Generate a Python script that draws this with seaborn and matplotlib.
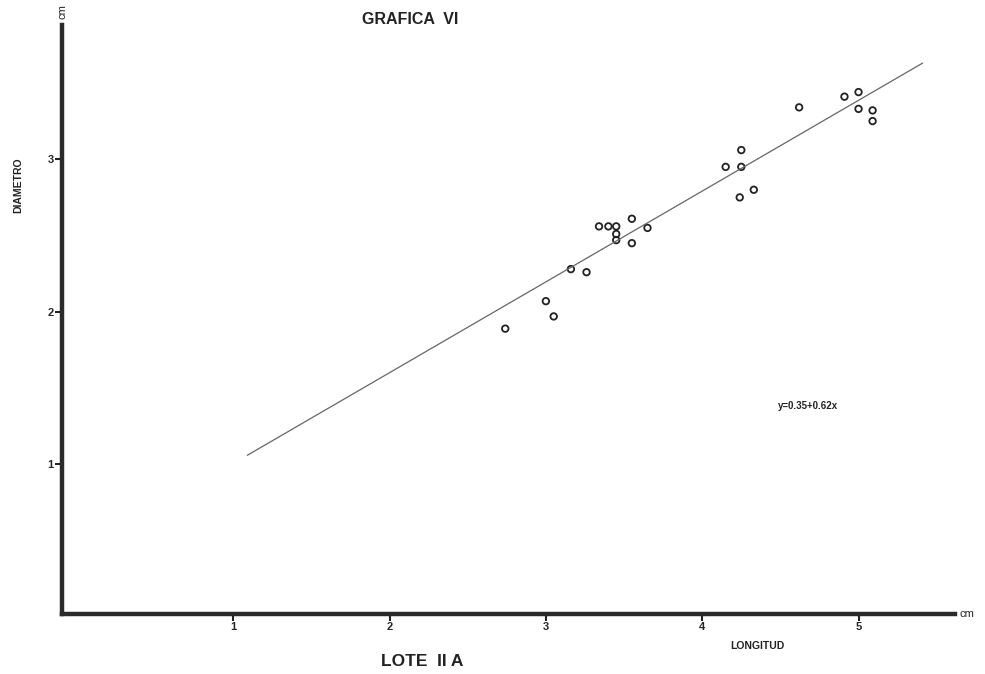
import pandas as pd
import matplotlib
matplotlib.use("Agg")
import matplotlib.pyplot as plt
import seaborn as sns

# datos (longitud, diametro en cm)
longitud = [2.74, 3.00, 3.05, 3.16, 3.26, 3.34, 3.40, 3.45, 3.45, 3.45, 3.55, 3.55,
            3.65, 4.15, 4.25, 4.25, 4.33, 4.24, 4.62, 4.91, 5.00, 5.00, 5.09, 5.09]
diametro = [1.89, 2.07, 1.97, 2.28, 2.26, 2.56, 2.56, 2.56, 2.51, 2.47, 2.61, 2.45,
            2.55, 2.95, 3.06, 2.95, 2.80, 2.75, 3.34, 3.41, 3.44, 3.33, 3.32, 3.25]

# recta de ajuste como aparece dibujada
recta_x = [1.09, 5.41]
recta_y = [1.06, 3.63]

x_ticks = [1, 2, 3, 4, 5]
y_ticks = [1, 2, 3]

df = pd.DataFrame({"Longitud": longitud, "Diametro": diametro})
df_recta = pd.DataFrame({"x": recta_x, "y": recta_y})

sns.set_style("white")
plt.rcParams["font.family"] = ["Liberation Sans", "DejaVu Sans"]

fig = plt.figure(figsize=(9.85, 6.74), dpi=100)
ax = fig.add_axes([0.063, 0.089, 0.907, 0.874])

sns.lineplot(data=df_recta, x="x", y="y", ax=ax, color="#666666", linewidth=0.9)
sns.scatterplot(data=df, x="Longitud", y="Diametro", ax=ax, marker="o", s=22,
                facecolor="none", edgecolor="#222222", linewidth=1.3)

ax.set_xlim(-0.095, 5.62)
ax.set_ylim(0.02, 3.88)
ax.set_xticks(x_ticks)
ax.set_yticks(y_ticks)
ax.set_xticklabels([str(t) for t in x_ticks], fontsize=8, fontweight="bold")
ax.set_yticklabels([str(t) for t in y_ticks], fontsize=8, fontweight="bold")
ax.tick_params(axis="both", direction="out", length=5, width=1.5, color="#222222",
               pad=1, bottom=True, left=True)
ax.set_xlabel("")
ax.set_ylabel("")

sns.despine(ax=ax)
for s in ["left", "bottom"]:
    ax.spines[s].set_linewidth(3.2)
    ax.spines[s].set_color("#2a2a2a")

# textos
fig.text(410 / 985, 1 - 20 / 674, "GRAFICA  VI", fontsize=11.5, fontweight="bold",
         ha="center", va="center", color="#222222")
fig.text(422 / 985, 1 - 662 / 674, "LOTE  II A", fontsize=12.5, fontweight="bold",
         ha="center", va="center", color="#222222")
fig.text(757 / 985, 1 - 646 / 674, "LONGITUD", fontsize=7.5, fontweight="bold",
         ha="center", va="center", color="#222222")
fig.text(18 / 985, 1 - 185 / 674, "DIAMETRO", fontsize=7.5, fontweight="bold",
         ha="center", va="center", rotation=90, color="#222222")
fig.text(63 / 985, 1 - 12 / 674, "cm", fontsize=8, ha="center", va="center",
         rotation=90, color="#222222")
fig.text(959 / 985, 1 - 614 / 674, "cm", fontsize=8, ha="left", va="center",
         color="#222222")
fig.text(808 / 985, 1 - 406 / 674, "y=0.35+0.62x", fontsize=7, fontweight="bold",
         ha="center", va="center", color="#222222")

fig.savefig("out.png", dpi=100)
